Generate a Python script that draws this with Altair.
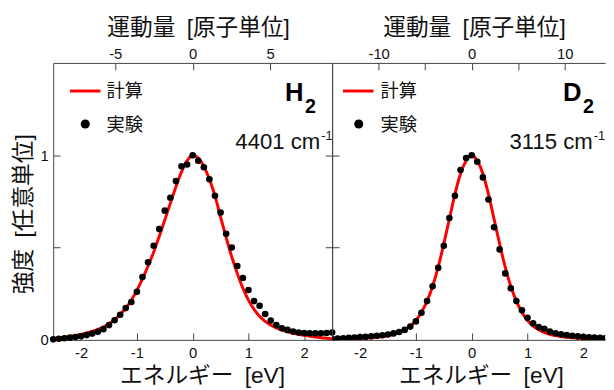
import altair as alt
import pandas as pd

# ---------------- data ----------------
energy = [-2.5, -2.4, -2.3, -2.2, -2.1, -2.0, -1.9, -1.8, -1.7, -1.6, -1.5,
          -1.4, -1.3, -1.2, -1.1, -1.0, -0.9, -0.8, -0.7, -0.6, -0.5,
          -0.4, -0.3, -0.2, -0.1, 0.0, 0.1, 0.2, 0.3, 0.4, 0.5,
          0.6, 0.7, 0.8, 0.9, 1.0, 1.1, 1.2, 1.3, 1.4, 1.5,
          1.6, 1.7, 1.8, 1.9, 2.0, 2.1, 2.2, 2.3, 2.4, 2.5]

h2_exp = [0.003, 0.006, 0.009, 0.012, 0.015, 0.020, 0.026, 0.034, 0.044, 0.058, 0.080,
          0.106, 0.136, 0.172, 0.205, 0.260, 0.340, 0.420, 0.510, 0.600, 0.700,
          0.770, 0.860, 0.940, 0.950, 1.000, 0.970, 0.935, 0.870, 0.780, 0.690,
          0.575, 0.500, 0.400, 0.335, 0.270, 0.210, 0.185, 0.140, 0.105, 0.080,
          0.063, 0.054, 0.045, 0.040, 0.037, 0.036, 0.035, 0.036, 0.037, 0.040]

h2_calc = [0.008, 0.011, 0.015, 0.019, 0.024, 0.030, 0.037, 0.046, 0.057, 0.070, 0.088,
           0.110, 0.138, 0.172, 0.215, 0.268, 0.330, 0.400, 0.475, 0.560, 0.650,
           0.740, 0.830, 0.910, 0.970, 1.000, 0.985, 0.940, 0.870, 0.780, 0.665,
           0.555, 0.450, 0.360, 0.280, 0.215, 0.165, 0.128, 0.100, 0.080, 0.065,
           0.053, 0.043, 0.036, 0.030, 0.025, 0.020, 0.016, 0.012, 0.009, 0.006]

d2_exp = [0.005, 0.007, 0.009, 0.011, 0.013, 0.015, 0.017, 0.019, 0.022, 0.025, 0.029,
          0.035, 0.043, 0.054, 0.072, 0.100, 0.147, 0.210, 0.290, 0.390, 0.510,
          0.660, 0.780, 0.920, 0.985, 1.000, 0.965, 0.880, 0.760, 0.610, 0.490,
          0.360, 0.280, 0.210, 0.160, 0.120, 0.090, 0.070, 0.060, 0.045, 0.036,
          0.030, 0.026, 0.022, 0.019, 0.016, 0.014, 0.012, 0.011, 0.010, 0.009]

d2_calc = [0.003, 0.003, 0.004, 0.005, 0.006, 0.007, 0.009, 0.011, 0.014, 0.018, 0.023,
           0.030, 0.040, 0.055, 0.075, 0.105, 0.150, 0.210, 0.290, 0.395, 0.520,
           0.655, 0.790, 0.900, 0.970, 1.000, 0.970, 0.900, 0.790, 0.655, 0.520,
           0.395, 0.290, 0.210, 0.150, 0.105, 0.075, 0.055, 0.040, 0.030, 0.023,
           0.018, 0.014, 0.011, 0.009, 0.007, 0.006, 0.005, 0.004, 0.003, 0.003]

energy_ticks = [-2, -1, 0, 1, 2]
intensity_ticks = [0, 0.5, 1]
h2_momentum_ticks = [-5, 0, 5]
d2_momentum_ticks = [-10, -5, 0, 5, 10]
legend_labels = ["計算", "実験"]
x_title = "エネルギー\u2002[eV]"
top_title = "運動量\u2002[原子単位]"
y_title = "強度\u2002[任意単位]"

FONT = "Liberation Sans, Noto Sans CJK JP"
LFONT = "Liberation Sans"
AXC = "#444444"
TXT = "#111111"
LFS = 15
TFS = 23
MINUS = "replace(datum.label, '\u2212', '-')"


def panel(calc, exp, e_dom, p_dom, p_ticks, p_label_expr, width, is_left,
          mol, wave, lg, top_title_x):
    height = 281
    df_c = pd.DataFrame({"E": energy, "I": calc})
    df_e = pd.DataFrame({"E": energy, "I": exp})
    xs = alt.Scale(domain=e_dom, nice=False, zero=False)
    ys = alt.Scale(domain=[0, 1.5], nice=False, zero=False)

    x_axis = alt.Axis(orient="bottom", values=energy_ticks, offset=-7, tickSize=7,
                      domain=False, grid=False, labelPadding=6, labelExpr=MINUS,
                      labelFont=LFONT, labelFontSize=LFS, labelColor=TXT,
                      title=x_title, titlePadding=4, titleX=151,
                      titleFont=FONT, titleFontSize=TFS, titleFontWeight="normal",
                      titleColor=TXT, tickColor=AXC)
    if is_left:
        y_axis = alt.Axis(orient="left", values=intensity_ticks, offset=-7, tickSize=7,
                          domain=False, grid=False, labelPadding=5,
                          labelFont=LFONT, labelFontSize=LFS, labelColor=TXT,
                          labelExpr="datum.value == 0 ? '0' : (datum.value == 1 ? '1' : '')",
                          title=y_title, titlePadding=5, titleY=153,
                          titleFont=FONT, titleFontSize=TFS, titleFontWeight="normal",
                          titleColor=TXT, tickColor=AXC)
    else:
        y_axis = alt.Axis(orient="left", values=intensity_ticks, offset=-7, tickSize=7,
                          domain=False, grid=False, labels=False, title=None, tickColor=AXC)

    line = alt.Chart(df_c).mark_line(color="#ff0000", strokeWidth=3,
                                     interpolate="monotone", clip=True).encode(
        x=alt.X("E:Q", scale=xs, axis=x_axis),
        y=alt.Y("I:Q", scale=ys, axis=y_axis),
    )
    pts = alt.Chart(df_e).mark_circle(color="black", size=45, opacity=1,
                                      clip=not is_left).encode(
        x=alt.X("E:Q", scale=xs, axis=None),
        y=alt.Y("I:Q", scale=ys, axis=None),
    )

    top = alt.Chart(pd.DataFrame({"P": p_ticks})).mark_point(opacity=0).encode(
        x=alt.X("P:Q", scale=alt.Scale(domain=p_dom, nice=False, zero=False),
                axis=alt.Axis(orient="top", values=p_ticks, offset=-7, tickSize=7,
                              domain=False, grid=False, labelPadding=1,
                              labelFont=LFONT, labelFontSize=LFS, labelColor=TXT,
                              labelExpr=p_label_expr, title=top_title,
                              titleFont=FONT, titleFontSize=TFS, titleFontWeight="normal",
                              titleColor=TXT, titleX=top_title_x,
                              titlePadding=8, tickColor=AXC)),
        y=alt.value(10),
    )

    def frame_axis(orient):
        return alt.Axis(orient=orient, domain=True, ticks=False, labels=False,
                        grid=False, title=None, domainColor=AXC)

    frame_a = alt.Chart(df_e).mark_point(opacity=0).encode(
        x=alt.X("E:Q", scale=xs, axis=frame_axis("bottom")),
        y=alt.Y("I:Q", scale=ys, axis=frame_axis("left")),
    )
    if is_left:
        frame_b = alt.Chart(df_e).mark_point(opacity=0).encode(
            x=alt.X("E:Q", scale=xs, axis=frame_axis("top")),
            y=alt.Y("I:Q", scale=ys, axis=frame_axis("right")),
        )
        right_ticks = alt.Chart(df_e).mark_point(opacity=0).encode(
            x=alt.X("E:Q", scale=xs, axis=None),
            y=alt.Y("I:Q", scale=ys, axis=alt.Axis(orient="right", values=[0.5, 1],
                                                   offset=-7, tickSize=7, domain=False,
                                                   labels=False, grid=False, title=None,
                                                   tickColor=AXC)),
        )
        extra = [frame_b, right_ticks]
    else:
        frame_b = alt.Chart(df_e).mark_point(opacity=0).encode(
            x=alt.X("E:Q", scale=xs, axis=frame_axis("top")),
            y=alt.Y("I:Q", scale=ys, axis=None),
        )
        extra = [frame_b]

    one = pd.DataFrame({"k": [0]})
    leg_line = alt.Chart(one).mark_rule(color="#ff0000", strokeWidth=3).encode(
        x=alt.value(lg[0]), x2=alt.value(lg[1]), y=alt.value(28.5))
    leg_dot = alt.Chart(one).mark_circle(color="black", size=85, opacity=1).encode(
        x=alt.value(lg[2]), y=alt.value(62))
    leg_txt = alt.Chart(pd.DataFrame({"t": legend_labels, "yy": [29, 63]})).mark_text(
        align="left", baseline="middle", font="Noto Sans CJK JP", fontSize=18.5, color=TXT
    ).encode(x=alt.value(lg[3]), y=alt.Y("yy:Q", scale=None), text="t:N")

    mol_big = alt.Chart(pd.DataFrame({"t": [mol]})).mark_text(
        align="right", baseline="alphabetic", font=LFONT, fontSize=26,
        fontWeight="bold", color="black").encode(
        x=alt.value(wave[0]), y=alt.value(38.5), text="t:N")
    mol_sub = alt.Chart(pd.DataFrame({"t": ["2"]})).mark_text(
        align="left", baseline="alphabetic", font=LFONT, fontSize=20,
        fontWeight="bold", color="black").encode(
        x=alt.value(wave[0] + 1.5), y=alt.value(51), text="t:N")
    wn = alt.Chart(pd.DataFrame({"t": [wave[2]]})).mark_text(
        align="right", baseline="alphabetic", font=LFONT, fontSize=22.5,
        color=TXT).encode(x=alt.value(wave[1]), y=alt.value(87.5), text="t:N")
    wn_sup = alt.Chart(pd.DataFrame({"t": ["-1"]})).mark_text(
        align="left", baseline="alphabetic", font=LFONT, fontSize=13,
        color=TXT).encode(x=alt.value(wave[1] + 1), y=alt.value(78), text="t:N")

    layers = [line, pts, top, frame_a] + extra + [leg_line, leg_dot, leg_txt,
                                                  mol_big, mol_sub, wn, wn_sup]
    return alt.layer(*layers).resolve_scale(x="independent", y="independent").properties(
        width=width, height=height)


left = panel(h2_calc, h2_exp, [-2.5, 2.5], [-9, 9], h2_momentum_ticks, MINUS,
             283, True, "H", (254, 271, "4401 cm"), (17, 48, 32.5, 54), 147)
right = panel(d2_calc, d2_exp, [-2.5, 2.39], [-15, 14.34], d2_momentum_ticks,
              "abs(datum.value) == 5 ? '' : " + MINUS,
              277, False, "D", (253, 264.5, "3115 cm"), (11, 42, 27, 49), 144)

chart = alt.hconcat(left, right, spacing=0, bounds="flush").properties(
    padding={"left": 12, "top": 14, "right": 0, "bottom": 0},
    background="white",
).configure_view(strokeWidth=0)

chart.save("out.html", embed_options={"renderer": "svg", "actions": False})
